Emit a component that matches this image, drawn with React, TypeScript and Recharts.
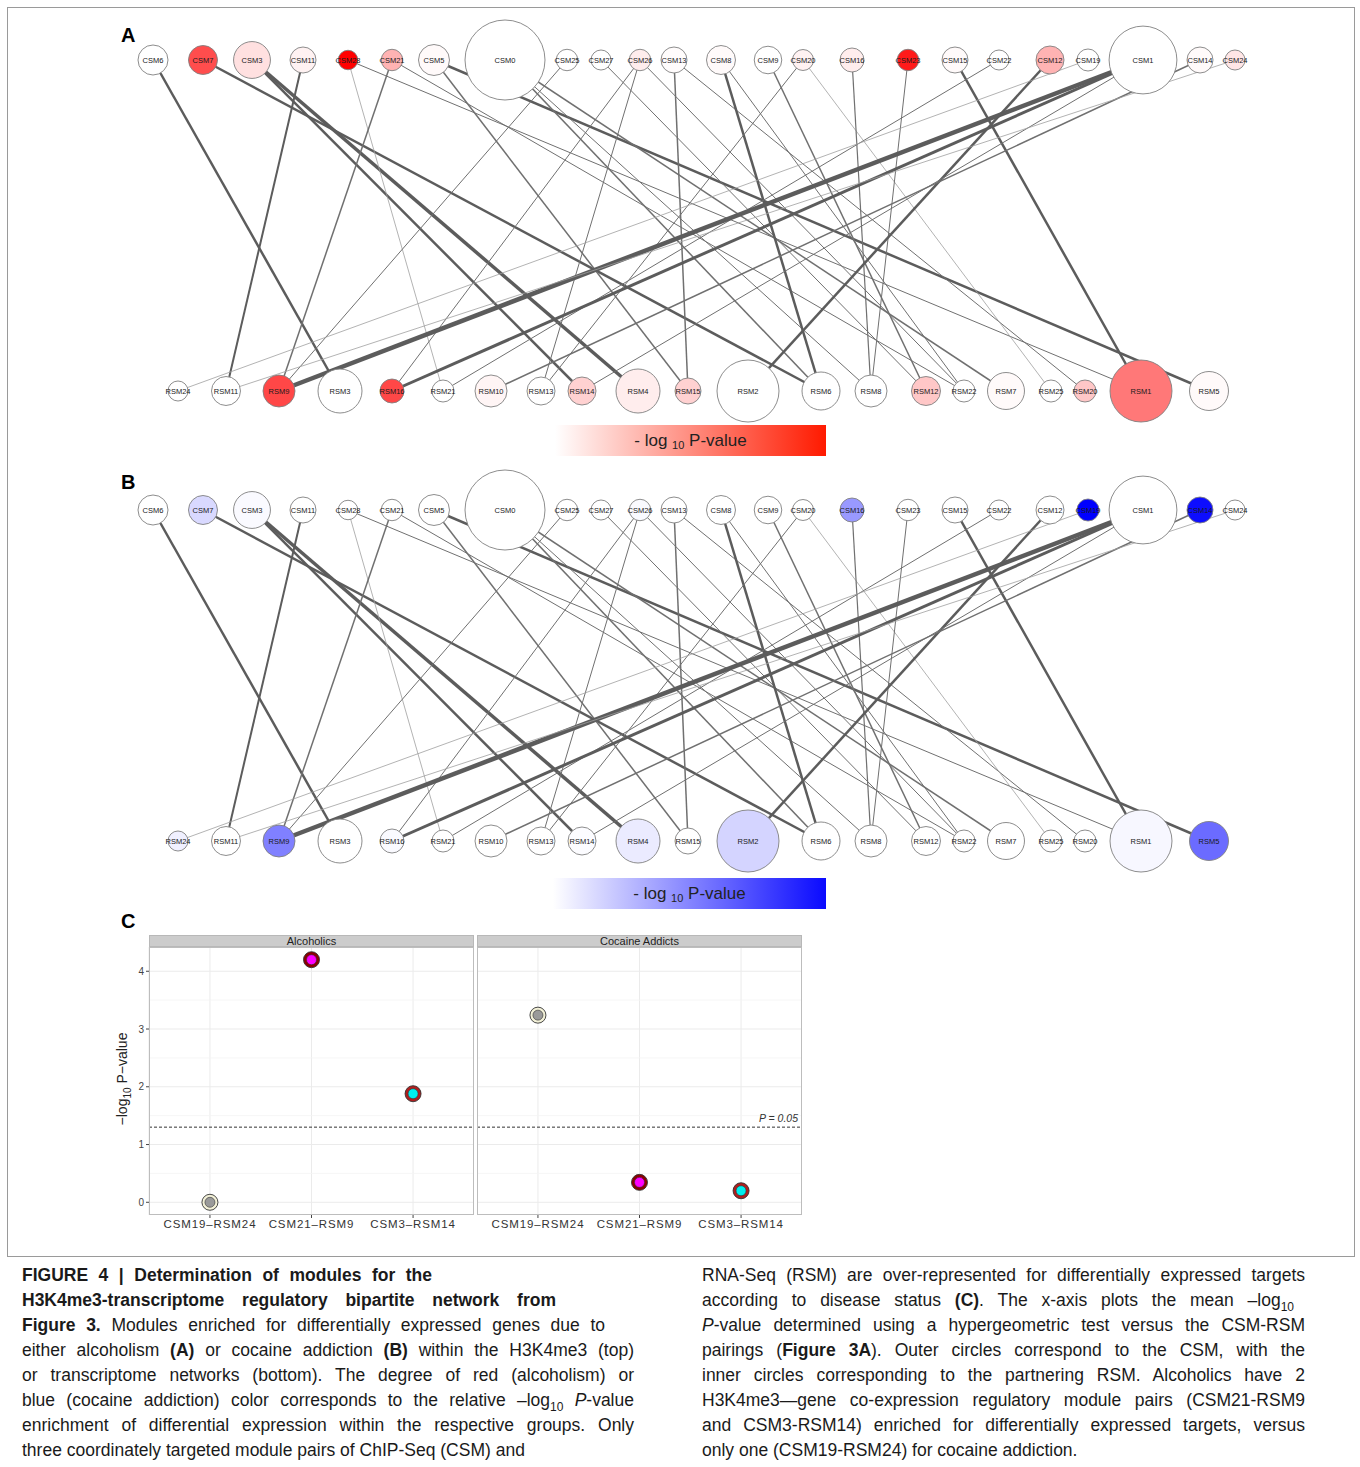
import React from "react";
import { ScatterChart, Scatter, XAxis, YAxis, CartesianGrid, ReferenceLine } from "recharts";

// ---- network nodes (layout coordinate, module size, relative -log10 p) ----
const csmNames = ["CSM6", "CSM7", "CSM3", "CSM11", "CSM28", "CSM21", "CSM5", "CSM0", "CSM25", "CSM27", "CSM26", "CSM13", "CSM8", "CSM9", "CSM20", "CSM16", "CSM23", "CSM15", "CSM22", "CSM12", "CSM19", "CSM1", "CSM14", "CSM24"];
const csmLayout = [153, 203, 252, 303, 348, 392, 434, 505, 567, 601, 640, 674, 721, 768, 803, 852, 908, 955, 999, 1050, 1088, 1143, 1200, 1235];
const csmSize = [225, 210, 340, 169, 95, 115, 240, 1600, 115, 100, 115, 169, 210, 190, 110, 144, 115, 169, 100, 196, 121, 1150, 169, 100];
const csmAlcohol = [0, 0.7, 0.12, 0.05, 1.0, 0.3, 0.02, 0, 0, 0, 0.07, 0.01, 0.02, 0, 0.05, 0.07, 0.9, 0.02, 0, 0.3, 0, 0, 0.02, 0.1];
const csmCocaine = [0, 0.15, 0.02, 0, 0, 0, 0, 0, 0, 0, 0.02, 0, 0, 0, 0, 0.4, 0, 0, 0, 0, 1.0, 0, 0.95, 0];

const rsmNames = ["RSM24", "RSM11", "RSM9", "RSM3", "RSM16", "RSM21", "RSM10", "RSM13", "RSM14", "RSM4", "RSM15", "RSM2", "RSM6", "RSM8", "RSM12", "RSM22", "RSM7", "RSM25", "RSM20", "RSM1", "RSM5"];
const rsmLayout = [178, 226, 279, 340, 392, 443, 491, 541, 582, 638, 688, 748, 821, 871, 926, 964, 1006, 1051, 1085, 1141, 1209];
const rsmSize = [100, 210, 256, 484, 144, 121, 256, 196, 196, 484, 169, 961, 361, 256, 210, 121, 342, 121, 121, 961, 380];
const rsmAlcohol = [0, 0, 0.72, 0, 0.72, 0, 0.04, 0, 0.18, 0.07, 0.18, 0, 0, 0, 0.22, 0, 0.02, 0, 0.22, 0.53, 0.02];
const rsmCocaine = [0.06, 0, 0.5, 0, 0.02, 0, 0, 0, 0.01, 0.08, 0, 0.17, 0, 0, 0, 0, 0, 0, 0, 0.03, 0.58];

// CSM -> RSM edges with their weight
const edges: [string, string, number][] = [
  ["CSM6", "RSM3", 2.5],
  ["CSM7", "RSM6", 2.5],
  ["CSM3", "RSM4", 3.5],
  ["CSM3", "RSM14", 2.5],
  ["CSM11", "RSM11", 2],
  ["CSM28", "RSM21", 0.8],
  ["CSM28", "RSM1", 1],
  ["CSM21", "RSM9", 1.5],
  ["CSM21", "RSM22", 1],
  ["CSM5", "RSM15", 1.5],
  ["CSM5", "RSM5", 2.5],
  ["CSM0", "RSM6", 1.5],
  ["CSM0", "RSM8", 1],
  ["CSM0", "RSM7", 1.5],
  ["CSM25", "RSM9", 1],
  ["CSM27", "RSM12", 1],
  ["CSM26", "RSM16", 1],
  ["CSM26", "RSM13", 1],
  ["CSM26", "RSM22", 1],
  ["CSM13", "RSM15", 1.5],
  ["CSM13", "RSM20", 1],
  ["CSM8", "RSM6", 2.5],
  ["CSM8", "RSM22", 1],
  ["CSM9", "RSM12", 1.5],
  ["CSM20", "RSM13", 1],
  ["CSM20", "RSM25", 0.8],
  ["CSM16", "RSM8", 1.2],
  ["CSM23", "RSM8", 1],
  ["CSM15", "RSM1", 2.5],
  ["CSM22", "RSM21", 1],
  ["CSM12", "RSM2", 2.5],
  ["CSM19", "RSM24", 0.8],
  ["CSM1", "RSM9", 4.5],
  ["CSM1", "RSM16", 3],
  ["CSM1", "RSM14", 1],
  ["CSM14", "RSM10", 1.5],
  ["CSM24", "RSM11", 0.8],
];

// ---- panel C ----
const pairNames = ["CSM19–RSM24", "CSM21–RSM9", "CSM3–RSM14"];
const alcoholicsP = [0.0, 4.2, 1.88];
const cocaineP = [3.24, 0.345, 0.2];
const csmColors = ["#f3f1d8", "#8b0000", "#b01e1e"];
const rsmColors = ["#9a9a9a", "#ff00ff", "#00eeee"];
const yTicks = [0, 1, 2, 3, 4];
const minorTicks = [0.5, 1.5, 2.5, 3.5];

const TOP_Y = 60;
const BOT_Y = 391;
const FONT = '"Liberation Sans", Arial, Helvetica, sans-serif';

function tint(base: number[], t: number) {
  const c = base.map((v) => Math.round(255 + (v - 255) * t));
  return `rgb(${c[0]},${c[1]},${c[2]})`;
}

function NodeShape(props: any) {
  const { cx, cy, payload } = props;
  const r = Math.sqrt(payload.size);
  return (
    <g>
      <circle cx={cx} cy={cy} r={r} fill={payload.fill} stroke="#808080" strokeWidth={0.9} />
      <text x={cx} y={cy} textAnchor="middle" dominantBaseline="central" fontSize={7.5} fill="#1a1a1a" fontFamily={FONT}>
        {payload.name}
      </text>
    </g>
  );
}

function Network({ csmT, rsmT, base }: { csmT: number[]; rsmT: number[]; base: number[] }) {
  const top = csmNames.map((name, i) => ({ name, x: csmLayout[i], y: TOP_Y, size: csmSize[i], fill: tint(base, csmT[i]) }));
  const bottom = rsmNames.map((name, i) => ({ name, x: rsmLayout[i], y: BOT_Y, size: rsmSize[i], fill: tint(base, rsmT[i]) }));
  const byName: Record<string, any> = {};
  [...top, ...bottom].forEach((n) => (byName[n.name] = n));

  return (
    <ScatterChart width={1360} height={450} margin={{ top: 0, right: 0, bottom: 0, left: 0 }}>
      <XAxis type="number" dataKey="x" domain={[0, 1360]} hide />
      <YAxis type="number" dataKey="y" domain={[0, 450]} reversed hide />
      {edges.map(([a, b, w], i) => (
        <Scatter
          key={i}
          data={[byName[a], byName[b]]}
          line={{ stroke: w < 1 ? "#a0a0a0" : w < 2 ? "#707070" : "#5c5c5c", strokeWidth: w }}
          shape={() => <g />}
          isAnimationActive={false}
        />
      ))}
      <Scatter data={[...top, ...bottom]} shape={NodeShape} isAnimationActive={false} />
    </ScatterChart>
  );
}

function PairDot(props: any) {
  const { cx, cy, payload } = props;
  return (
    <g>
      <circle cx={cx} cy={cy} r={8} fill={payload.outer} stroke="#333" strokeWidth={0.9} />
      <circle cx={cx} cy={cy} r={5} fill={payload.inner} stroke="#333" strokeWidth={0.6} />
    </g>
  );
}

function PLabel(props: any) {
  const vb = props.viewBox;
  return (
    <text x={vb.x + vb.width - 4} y={vb.y - 5} textAnchor="end" fontSize={10.5} fontStyle="italic" fill="#333" fontFamily={FONT}>
      P = 0.05
    </text>
  );
}

function Facet({ values, withAxis, pLabel }: { values: number[]; withAxis: boolean; pLabel: boolean }) {
  const data = pairNames.map((p, i) => ({ x: i + 1, v: values[i], outer: csmColors[i], inner: rsmColors[i] }));
  return (
    <ScatterChart width={withAxis ? 364 : 325} height={292} margin={{ top: 0, right: 0, bottom: 0, left: 0 }}>
      <CartesianGrid horizontal={false} stroke="#ebebeb" />
      <XAxis
        type="number"
        dataKey="x"
        domain={[0.4, 3.6]}
        ticks={[1, 2, 3]}
        tickFormatter={(v) => pairNames[v - 1]}
        height={24}
        tickSize={3}
        axisLine={false}
        tickLine={{ stroke: "#444" }}
        tick={{ fontSize: 11.5, fill: "#333", letterSpacing: 0.9, fontFamily: FONT }}
        interval={0}
      />
      <YAxis
        type="number"
        dataKey="v"
        domain={[-0.22, 4.42]}
        ticks={yTicks}
        allowDataOverflow
        hide={!withAxis}
        width={39}
        tickSize={3}
        axisLine={false}
        tickLine={{ stroke: "#444" }}
        tick={{ fontSize: 10, fill: "#444", fontFamily: FONT }}
        label={{
          content: (lp: any) => {
            const vb = lp.viewBox;
            const x = vb.x + 17;
            const y = vb.y + vb.height / 2 - 2;
            return (
              <text x={x} y={y} transform={`rotate(-90 ${x} ${y})`} textAnchor="middle" fontSize={14} fill="#222" fontFamily={FONT}>
                <tspan>−log</tspan>
                <tspan fontSize={10} dy={4}>10</tspan>
                <tspan dy={-4}> P−value</tspan>
              </text>
            );
          },
        }}
      />
      {minorTicks.map((t) => (
        <ReferenceLine key={"m" + t} y={t} stroke="#f4f4f4" strokeWidth={0.8} />
      ))}
      {yTicks.map((t) => (
        <ReferenceLine key={"M" + t} y={t} stroke="#ebebeb" strokeWidth={1} />
      ))}
      <ReferenceLine y={1.301} stroke="#333" strokeDasharray="3 2" label={pLabel ? <PLabel /> : undefined} />
      <Scatter data={data} shape={PairDot} isAnimationActive={false} />
    </ScatterChart>
  );
}

const abs = (left: number, top: number, extra: React.CSSProperties = {}): React.CSSProperties => ({ position: "absolute", left, top, ...extra });

function LegendBar({ top, left, color }: { top: number; left: number; color: string }) {
  return (
    <div
      style={abs(left, top, {
        width: 826 - left,
        height: 31,
        background: `linear-gradient(to right, #ffffff, ${color})`,
        display: "flex",
        alignItems: "center",
        justifyContent: "center",
        fontSize: 17,
        color: "#222",
      })}
    >
      <span>
        - log <span style={{ fontSize: 11, position: "relative", top: 3 }}>10</span> P-value
      </span>
    </div>
  );
}

const J: React.CSSProperties = { textAlign: "justify", textAlignLast: "justify", whiteSpace: "nowrap" };
const L: React.CSSProperties = { whiteSpace: "nowrap" };
const sub = (s: string) => <span style={{ fontSize: 12, position: "relative", top: 5, lineHeight: 0 }}>{s}</span>;

export default function App() {
  return (
    <div style={{ position: "absolute", left: 0, top: 0, width: 1360, height: 1467, background: "#fff", fontFamily: FONT, overflow: "hidden" }}>
      <div style={abs(7, 7, { width: 1348, height: 1250, border: "1px solid #9a9a9a", boxSizing: "border-box" })} />

      <div style={abs(121, 24, { fontSize: 20, fontWeight: 700 })}>A</div>
      <div style={abs(0, 0)}>
        <Network csmT={csmAlcohol} rsmT={rsmAlcohol} base={[255, 0, 0]} />
      </div>
      <LegendBar top={425} left={555} color="#ff1a00" />

      <div style={abs(121, 471, { fontSize: 20, fontWeight: 700 })}>B</div>
      <div style={abs(0, 450)}>
        <Network csmT={csmCocaine} rsmT={rsmCocaine} base={[0, 0, 255]} />
      </div>
      <LegendBar top={878} left={553} color="#0a0aff" />

      <div style={abs(121, 910, { fontSize: 20, fontWeight: 700 })}>C</div>
      {[{ x: 149, t: "Alcoholics" }, { x: 477, t: "Cocaine Addicts" }].map((s) => (
        <div
          key={s.t}
          style={abs(s.x, 935, {
            width: 325,
            height: 12,
            background: "#cccccc",
            border: "1px solid #b8b8b8",
            boxSizing: "border-box",
            fontSize: 11,
            lineHeight: "11px",
            textAlign: "center",
            color: "#222",
          })}
        >
          {s.t}
        </div>
      ))}
      <div style={abs(110, 947)}>
        <Facet values={alcoholicsP} withAxis pLabel={false} />
      </div>
      <div style={abs(477, 947)}>
        <Facet values={cocaineP} withAxis={false} pLabel />
      </div>
      <div style={abs(149, 947, { width: 325, height: 268, border: "1px solid #bdbdbd", boxSizing: "border-box" })} />
      <div style={abs(477, 947, { width: 325, height: 268, border: "1px solid #bdbdbd", boxSizing: "border-box" })} />

      <div style={abs(22, 1263, { width: 612, fontSize: 17.5, lineHeight: "25px", color: "#1a1a1a" })}>
        <div style={{ ...J, fontWeight: 700, width: 410 }}>FIGURE 4 | Determination of modules for the</div>
        <div style={{ ...J, fontWeight: 700, width: 534 }}>H3K4me3-transcriptome regulatory bipartite network from</div>
        <div style={{ ...J, width: 583 }}>
          <b>Figure 3.</b> Modules enriched for differentially expressed genes due to
        </div>
        <div style={J}>
          either alcoholism <b>(A)</b> or cocaine addiction <b>(B)</b> within the H3K4me3 (top)
        </div>
        <div style={J}>or transcriptome networks (bottom). The degree of red (alcoholism) or</div>
        <div style={J}>
          blue (cocaine addiction) color corresponds to the relative –log{sub("10")} <i>P</i>-value
        </div>
        <div style={J}>enrichment of differential expression within the respective groups. Only</div>
        <div style={L}>three coordinately targeted module pairs of ChIP-Seq (CSM) and</div>
      </div>

      <div style={abs(702, 1263, { width: 603, fontSize: 17.5, lineHeight: "25px", color: "#1a1a1a" })}>
        <div style={J}>RNA-Seq (RSM) are over-represented for differentially expressed targets</div>
        <div style={{ ...J, width: 592 }}>
          according to disease status <b>(C)</b>. The x-axis plots the mean –log{sub("10")}
        </div>
        <div style={J}>
          <i>P</i>-value determined using a hypergeometric test versus the CSM-RSM
        </div>
        <div style={J}>
          pairings (<b>Figure 3A</b>). Outer circles correspond to the CSM, with the
        </div>
        <div style={J}>inner circles corresponding to the partnering RSM. Alcoholics have 2</div>
        <div style={J}>H3K4me3—gene co-expression regulatory module pairs (CSM21-RSM9</div>
        <div style={J}>and CSM3-RSM14) enriched for differentially expressed targets, versus</div>
        <div style={L}>only one (CSM19-RSM24) for cocaine addiction.</div>
      </div>
    </div>
  );
}
